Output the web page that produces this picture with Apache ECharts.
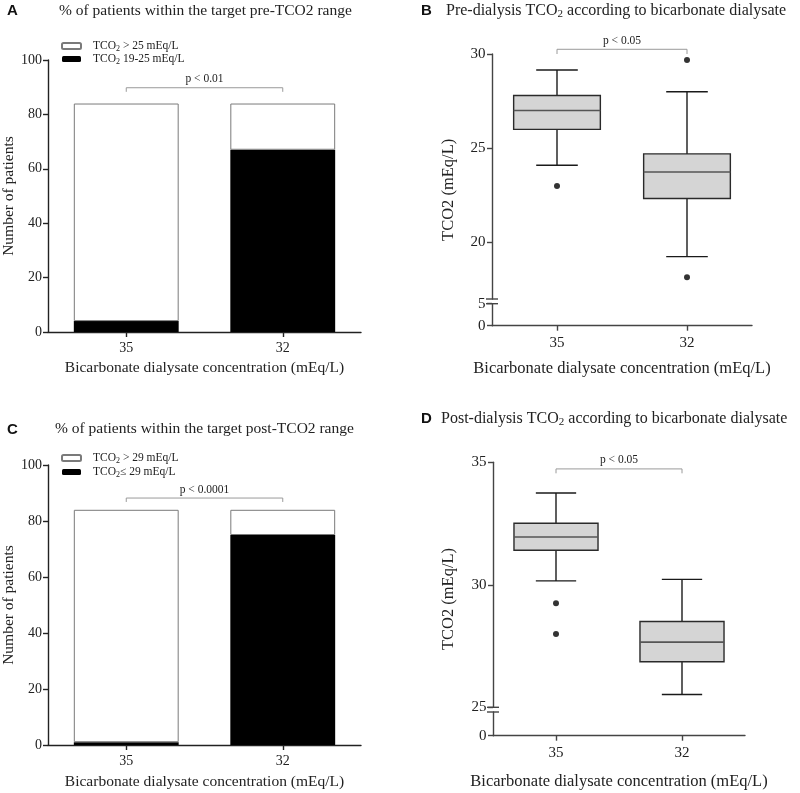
<!DOCTYPE html>
<html><head><meta charset="utf-8">
<script src="https://cdn.jsdelivr.net/npm/echarts@6/dist/echarts.min.js"></script>
<style>html,body{margin:0;padding:0;background:#fff}#c{width:800px;height:793px}</style>
</head><body><div id="c"></div>
<script>
// ---------- data ----------
const categories = ['35', '32'];
// Panel A (pre-dialysis, counts)
const preAboveTarget = [80, 17];    // TCO2 > 25 mEq/L (white)
const preWithinTarget = [4, 67];    // TCO2 19-25 mEq/L (black)
// Panel C (post-dialysis, counts)
const postAboveTarget = [83, 9];    // TCO2 > 29 mEq/L (white)
const postWithinTarget = [1, 75];   // TCO2 <= 29 mEq/L (black)
// Panel B boxes: [min, q1, median, q3, max]
const preBox35 = [24.1, 26.0, 27.0, 27.8, 29.15];
const preBox32 = [19.25, 22.33, 23.74, 24.7, 28.0];
const preOutliers = [[0, 23.0], [1, 29.68], [1, 18.15]];
// Panel D boxes
const postBox35 = [30.16, 31.41, 31.95, 32.51, 33.75];
const postBox32 = [25.52, 26.86, 27.66, 28.5, 30.22];
const postOutliers = [[0, 29.25], [0, 27.99]];
// tick labels
const barTicks = [0, 20, 40, 60, 80, 100];
const preUpperTicks = [20, 25, 30];
const preLowerTicks = [0, 5];
const postUpperTicks = [25, 30, 35];
const postLowerTicks = [0];
// significance brackets: [fromCat, toCat, level, drop]
const bracketA = [0, 1, 89.8, 88.3];
const bracketB = [0, 1, 30.25, 30.0];
const bracketC = [0, 1, 88.2, 86.8];
const bracketD = [0, 1, 34.73, 34.55];
const pLabels = ['p < 0.01', 'p < 0.05', 'p < 0.0001', 'p < 0.05'];

// ---------- styling ----------
const SERIF = '"Liberation Serif", "Times New Roman", serif';
const SANS = '"Liberation Sans", Arial, sans-serif';
const INK = '#222';
const subRich = {
  g: {width: 7, fontSize: 11.5},
  t: {fontFamily: SERIF, fontSize: 11.5, color: INK, lineHeight: 14, verticalAlign: 'middle'},
  s: {fontFamily: SERIF, fontSize: 8, color: INK, lineHeight: 8, verticalAlign: 'bottom'}
};
const titleRich = {
  t: {fontFamily: SERIF, fontWeight: 'normal', fontSize: 16, color: INK, lineHeight: 19, verticalAlign: 'middle'},
  s: {fontFamily: SERIF, fontWeight: 'normal', fontSize: 11, color: INK, lineHeight: 10, verticalAlign: 'bottom'}
};

const chart = echarts.init(document.getElementById('c'), null, {renderer: 'canvas'});

function boxRender(params, api) {
  const idx = api.value(0);
  const vMin = api.value(1), q1 = api.value(2), med = api.value(3), q3 = api.value(4), vMax = api.value(5);
  const x = api.coord([idx, med])[0];
  const band = api.size([1, 0])[0];
  const bw = band * 0.667, cw = band * 0.32;
  const y = v => api.coord([idx, v])[1];
  const ls = {stroke: '#1a1a1a', lineWidth: 1.4};
  return {type: 'group', children: [
    {type: 'line', shape: {x1: x, y1: y(vMax), x2: x, y2: y(q3)}, style: ls},
    {type: 'line', shape: {x1: x, y1: y(q1), x2: x, y2: y(vMin)}, style: ls},
    {type: 'line', shape: {x1: x - cw / 2, y1: y(vMax), x2: x + cw / 2, y2: y(vMax)}, style: ls},
    {type: 'line', shape: {x1: x - cw / 2, y1: y(vMin), x2: x + cw / 2, y2: y(vMin)}, style: ls},
    {type: 'rect', shape: {x: x - bw / 2, y: y(q3), width: bw, height: y(q1) - y(q3)},
      style: {fill: '#d5d5d5', stroke: '#2a2a2a', lineWidth: 1.4}},
    {type: 'line', shape: {x1: x - bw / 2, y1: y(med), x2: x + bw / 2, y2: y(med)},
      style: {stroke: '#555', lineWidth: 1.6}}
  ]};
}

function makeBracketRender(label) {
  return function (params, api) {
    const c0 = api.coord([api.value(0), api.value(2)]);
    const c1 = api.coord([api.value(1), api.value(2)]);
    const yd = api.coord([api.value(0), api.value(3)])[1];
    return {type: 'group', children: [
      {type: 'polyline', shape: {points: [[c0[0], yd], [c0[0], c0[1]], [c1[0], c1[1]], [c1[0], yd]]},
        style: {stroke: '#9a9a9a', lineWidth: 1, fill: null}},
      {type: 'text', x: (c0[0] + c1[0]) / 2, y: c0[1] - 8.5,
        style: {text: label, fontFamily: SERIF, fontSize: 11.5, fill: INK, align: 'center', verticalAlign: 'middle'}}
    ]};
  };
}

function valueAxis(grid, min, max, ticks, color, lblSize, margin, extra) {
  return Object.assign({
    gridIndex: grid, type: 'value', min: min, max: max,
    axisLine: {show: true, lineStyle: {color: color, width: 1.4}},
    axisTick: {show: true, length: 5, customValues: ticks, lineStyle: {color: color, width: 1.4}},
    axisLabel: {customValues: ticks, fontFamily: SERIF, fontSize: lblSize, color: INK, margin: margin},
    splitLine: {show: false}
  }, extra || {});
}
function catAxis(grid, color, lblSize, margin, nameGap, nameSize) {
  return {
    gridIndex: grid, type: 'category', data: categories,
    axisLine: {show: true, lineStyle: {color: color, width: 1.4}},
    axisTick: {show: true, alignWithLabel: true, length: 5, lineStyle: {color: color, width: 1.4}},
    axisLabel: {fontFamily: SERIF, fontSize: lblSize, color: INK, margin: margin},
    name: 'Bicarbonate dialysate concentration (mEq/L)', nameLocation: 'middle', nameGap: nameGap,
    nameTextStyle: {fontFamily: SERIF, fontSize: nameSize, color: INK}
  };
}
function hiddenCat(grid) {
  return {gridIndex: grid, type: 'category', data: categories, show: false};
}
const legendFmt = n => '{g|}{t|TCO}{s|2}{t|' + n.slice(4) + '}';
const legendBase = {
  orient: 'vertical', itemWidth: 19, itemHeight: 6, padding: 0, selectedMode: false,
  formatter: legendFmt, textStyle: {fontFamily: SERIF, fontSize: 11.5, color: INK, rich: subRich}
};

const option = {
  animation: false,
  backgroundColor: '#fff',
  title: [
    {text: 'A', left: 7, top: 3, padding: 0, textStyle: {fontFamily: SANS, fontWeight: 'bold', fontSize: 15, color: '#111'}},
    {text: '% of patients within the target pre-TCO2 range', left: 59, top: 3, padding: 0,
      textStyle: {fontFamily: SERIF, fontWeight: 'normal', fontSize: 15.5, color: INK}},
    {text: 'B', left: 421, top: 3, padding: 0, textStyle: {fontFamily: SANS, fontWeight: 'bold', fontSize: 15, color: '#111'}},
    {text: '{t|Pre-dialysis TCO}{s|2}{t| according to bicarbonate dialysate}', left: 446, top: 1, padding: 0,
      textStyle: {fontWeight: 'normal', fontFamily: SERIF, rich: titleRich}},
    {text: 'C', left: 7, top: 422, padding: 0, textStyle: {fontFamily: SANS, fontWeight: 'bold', fontSize: 15, color: '#111'}},
    {text: '% of patients within the target post-TCO2 range', left: 55, top: 421, padding: 0,
      textStyle: {fontFamily: SERIF, fontWeight: 'normal', fontSize: 15.5, color: INK}},
    {text: 'D', left: 421, top: 411, padding: 0, textStyle: {fontFamily: SANS, fontWeight: 'bold', fontSize: 15, color: '#111'}},
    {text: '{t|Post-dialysis TCO}{s|2}{t| according to bicarbonate dialysate}', left: 441, top: 409, padding: 0,
      textStyle: {fontWeight: 'normal', fontFamily: SERIF, rich: titleRich}}
  ],
  legend: [
    Object.assign({}, legendBase, {data: ['TCO2 > 25 mEq/L', 'TCO2 19-25 mEq/L'], left: 61, top: 40, itemGap: 0}),
    Object.assign({}, legendBase, {data: ['TCO2 > 29 mEq/L', 'TCO2≤ 29 mEq/L'], left: 61, top: 452, itemGap: 1})
  ],
  grid: [
    {left: 48, top: 60, width: 313, height: 272},      // A
    {left: 48, top: 465, width: 313, height: 280},     // C
    {left: 492, top: 54, width: 260, height: 245},     // B upper
    {left: 492, top: 303.7, width: 260, height: 22},   // B lower
    {left: 493, top: 462.3, width: 252, height: 245},  // D upper
    {left: 493, top: 712, width: 252, height: 23.7}    // D lower
  ],
  xAxis: [
    catAxis(0, INK, 14, 9, 28, 15.5),
    catAxis(1, INK, 14, 9.5, 28.5, 15.5),
    hiddenCat(2),
    catAxis(3, '#444', 15, 10, 34, 16.5),
    hiddenCat(4),
    catAxis(5, '#444', 15, 10, 37.5, 16.5)
  ],
  yAxis: [
    valueAxis(0, 0, 100, barTicks, INK, 14, 6, {name: 'Number of patients', nameLocation: 'middle', nameGap: 22,
      nameTextStyle: {fontFamily: SERIF, fontSize: 15.5, color: INK}}),
    valueAxis(1, 0, 100, barTicks, INK, 14, 6, {name: 'Number of patients', nameLocation: 'middle', nameGap: 22,
      nameTextStyle: {fontFamily: SERIF, fontSize: 15.5, color: INK}}),
    valueAxis(2, 17, 30, preUpperTicks, '#444', 15, 6.5),
    valueAxis(3, 0, 5, preLowerTicks, '#444', 15, 6.5),
    valueAxis(4, 25, 35, postUpperTicks, '#444', 15, 6.5),
    valueAxis(5, 0, 1, postLowerTicks, '#444', 15, 6.5)
  ],
  series: [
    {type: 'bar', name: 'TCO2 19-25 mEq/L', xAxisIndex: 0, yAxisIndex: 0, stack: 'A', barWidth: '67%',
      data: preWithinTarget, itemStyle: {color: '#000'}},
    {type: 'bar', name: 'TCO2 > 25 mEq/L', xAxisIndex: 0, yAxisIndex: 0, stack: 'A', barWidth: '67%',
      data: preAboveTarget, itemStyle: {color: '#fff', borderColor: '#7a7a7a', borderWidth: 1}},
    {type: 'bar', name: 'TCO2≤ 29 mEq/L', xAxisIndex: 1, yAxisIndex: 1, stack: 'C', barWidth: '67%',
      data: postWithinTarget, itemStyle: {color: '#000'}},
    {type: 'bar', name: 'TCO2 > 29 mEq/L', xAxisIndex: 1, yAxisIndex: 1, stack: 'C', barWidth: '67%',
      data: postAboveTarget, itemStyle: {color: '#fff', borderColor: '#7a7a7a', borderWidth: 1}},
    {type: 'custom', name: 'preBox', xAxisIndex: 2, yAxisIndex: 2, renderItem: boxRender,
      encode: {x: 0, y: [1, 2, 3, 4, 5]}, data: [[0].concat(preBox35), [1].concat(preBox32)]},
    {type: 'scatter', name: 'preOut', xAxisIndex: 2, yAxisIndex: 2, data: preOutliers, symbolSize: 6,
      itemStyle: {color: '#000'}},
    {type: 'custom', name: 'postBox', xAxisIndex: 4, yAxisIndex: 4, renderItem: boxRender,
      encode: {x: 0, y: [1, 2, 3, 4, 5]}, data: [[0].concat(postBox35), [1].concat(postBox32)]},
    {type: 'scatter', name: 'postOut', xAxisIndex: 4, yAxisIndex: 4, data: postOutliers, symbolSize: 6,
      itemStyle: {color: '#000'}},
    {type: 'custom', xAxisIndex: 0, yAxisIndex: 0, renderItem: makeBracketRender(pLabels[0]), clip: false,
      encode: {x: [0, 1], y: [2, 3]}, data: [bracketA]},
    {type: 'custom', xAxisIndex: 2, yAxisIndex: 2, renderItem: makeBracketRender(pLabels[1]), clip: false,
      encode: {x: [0, 1], y: [2, 3]}, data: [bracketB]},
    {type: 'custom', xAxisIndex: 1, yAxisIndex: 1, renderItem: makeBracketRender(pLabels[2]), clip: false,
      encode: {x: [0, 1], y: [2, 3]}, data: [bracketC]},
    {type: 'custom', xAxisIndex: 4, yAxisIndex: 4, renderItem: makeBracketRender(pLabels[3]), clip: false,
      encode: {x: [0, 1], y: [2, 3]}, data: [bracketD]}
  ]
};
chart.setOption(option);

// axis-break marks and y-axis names for the box panels
function breakMarks(upperIdx, upperMin, lowerIdx, lowerMax, axisX) {
  const y1 = chart.convertToPixel({yAxisIndex: upperIdx}, upperMin);
  const y2 = chart.convertToPixel({yAxisIndex: lowerIdx}, lowerMax);
  const st = {stroke: '#444', lineWidth: 1.4};
  return [
    {type: 'line', shape: {x1: axisX - 6, y1: y1, x2: axisX + 6, y2: y1}, style: st},
    {type: 'line', shape: {x1: axisX - 6, y1: y2, x2: axisX + 6, y2: y2}, style: st}
  ];
}
function axisName(upperIdx, upperMax, lowerIdx, x) {
  const yTop = chart.convertToPixel({yAxisIndex: upperIdx}, upperMax);
  const yBot = chart.convertToPixel({yAxisIndex: lowerIdx}, 0);
  return {type: 'text', x: x, y: (yTop + yBot) / 2, rotation: Math.PI / 2,
    style: {text: 'TCO2 (mEq/L)', fontFamily: SERIF, fontSize: 16.5, fill: INK, align: 'center', verticalAlign: 'middle'}};
}
chart.setOption({graphic: [].concat(
  breakMarks(2, 17, 3, 5, 492),
  breakMarks(4, 25, 5, 1, 493),
  [axisName(2, 30, 3, 449), axisName(4, 35, 5, 449)]
)});
</script>
</body></html>
